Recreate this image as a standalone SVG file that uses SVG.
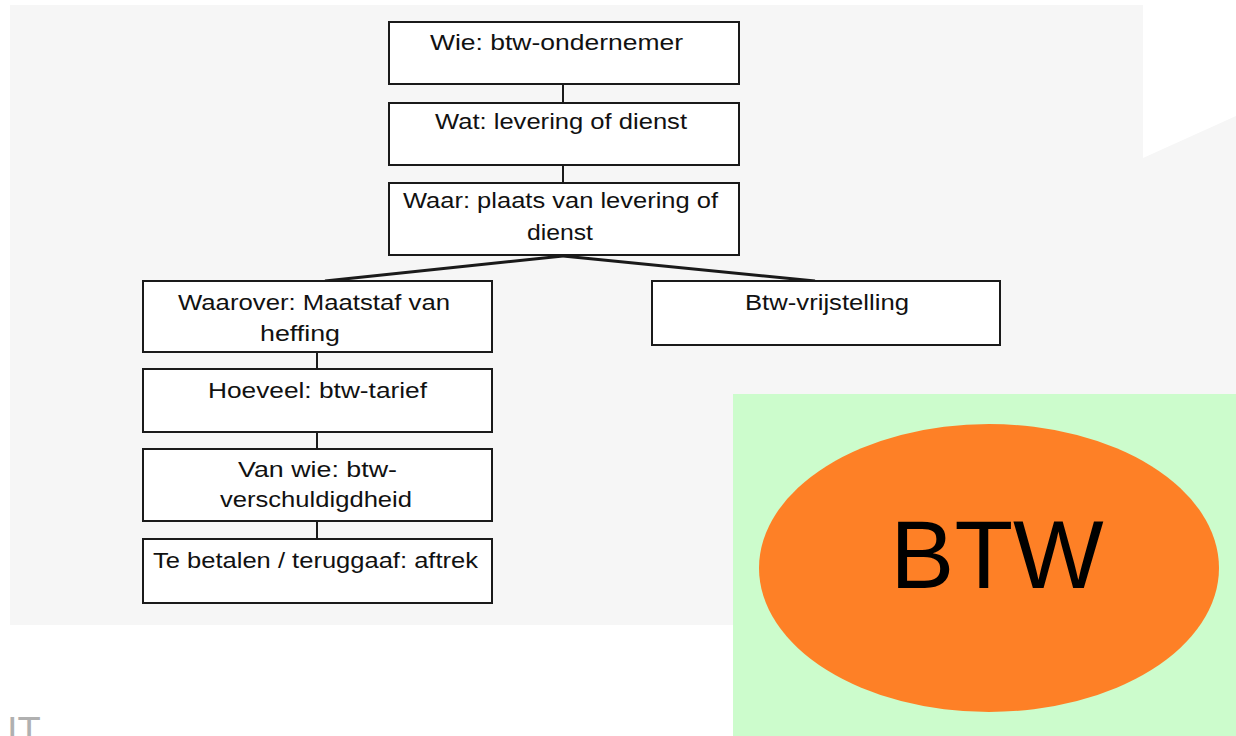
<svg xmlns="http://www.w3.org/2000/svg" width="1236" height="736" viewBox="0 0 1236 736">
  <style>
    .box { fill: #ffffff; stroke: #1a1a1a; stroke-width: 2; }
    .lbl { font-family: "Liberation Sans", Arial, sans-serif; font-size: 22px; fill: #111111; }
    .link { stroke: #1a1a1a; stroke-width: 2; fill: none; }
    .fork { stroke: #1a1a1a; stroke-width: 3; fill: none; }
  </style>

  <!-- page background -->
  <rect x="0" y="0" width="1236" height="736" fill="#ffffff"/>
  <polygon points="10,5 1143,5 1143,158 1236,116 1236,625 10,625" fill="#f6f6f6"/>
  <rect x="733" y="394" width="503" height="342" fill="#ccfccc"/>

  <!-- connectors -->
  <g id="connectors">
    <line class="link" x1="563" y1="84" x2="563" y2="103"/>
    <line class="link" x1="563" y1="165" x2="563" y2="183"/>
    <line class="fork" x1="563" y1="256" x2="325" y2="281"/>
    <line class="fork" x1="563" y1="256" x2="815" y2="281"/>
    <line class="link" x1="317" y1="352" x2="317" y2="369"/>
    <line class="link" x1="317" y1="432" x2="317" y2="449"/>
    <line class="link" x1="317" y1="521" x2="317" y2="539"/>
  </g>

  <g id="wie">
    <rect class="box" x="389" y="22" width="350" height="62"/>
    <text class="lbl" x="430" y="50" textLength="253" lengthAdjust="spacingAndGlyphs">Wie: btw-ondernemer</text>
  </g>
  <g id="wat">
    <rect class="box" x="389" y="103" width="350" height="62"/>
    <text class="lbl" x="435" y="129" textLength="252" lengthAdjust="spacingAndGlyphs">Wat: levering of dienst</text>
  </g>
  <g id="waar">
    <rect class="box" x="389" y="183" width="350" height="72"/>
    <text class="lbl" x="403" y="208" textLength="315" lengthAdjust="spacingAndGlyphs">Waar: plaats van levering of</text>
    <text class="lbl" x="527" y="240" textLength="66" lengthAdjust="spacingAndGlyphs">dienst</text>
  </g>
  <g id="waarover">
    <rect class="box" x="143" y="281" width="349" height="71"/>
    <text class="lbl" x="178" y="310" textLength="272" lengthAdjust="spacingAndGlyphs">Waarover: Maatstaf van</text>
    <text class="lbl" x="260" y="341" textLength="80" lengthAdjust="spacingAndGlyphs">heffing</text>
  </g>
  <g id="vrijstelling">
    <rect class="box" x="652" y="281" width="348" height="64"/>
    <text class="lbl" x="745" y="310" textLength="164" lengthAdjust="spacingAndGlyphs">Btw-vrijstelling</text>
  </g>
  <g id="hoeveel">
    <rect class="box" x="143" y="369" width="349" height="63"/>
    <text class="lbl" x="208" y="398" textLength="219" lengthAdjust="spacingAndGlyphs">Hoeveel: btw-tarief</text>
  </g>
  <g id="vanwie">
    <rect class="box" x="143" y="449" width="349" height="72"/>
    <text class="lbl" x="238" y="477" textLength="159" lengthAdjust="spacingAndGlyphs">Van wie: btw-</text>
    <text class="lbl" x="220" y="507" textLength="192" lengthAdjust="spacingAndGlyphs">verschuldigdheid</text>
  </g>
  <g id="aftrek">
    <rect class="box" x="143" y="539" width="349" height="64"/>
    <text class="lbl" x="153" y="568" textLength="325" lengthAdjust="spacingAndGlyphs">Te betalen / teruggaaf: aftrek</text>
  </g>

  <g id="btw">
    <ellipse cx="989" cy="568" rx="230" ry="144" fill="#fe8026"/>
    <text x="997" y="588" text-anchor="middle" font-family="'Liberation Sans', Arial, sans-serif" font-size="96" fill="#000000">BTW</text>
  </g>

  <!-- footer fragment, running off the bottom edge -->
  <text x="7" y="744" font-family="'Liberation Sans', Arial, sans-serif" font-size="38" fill="#b0b0b0">IT</text>
</svg>
